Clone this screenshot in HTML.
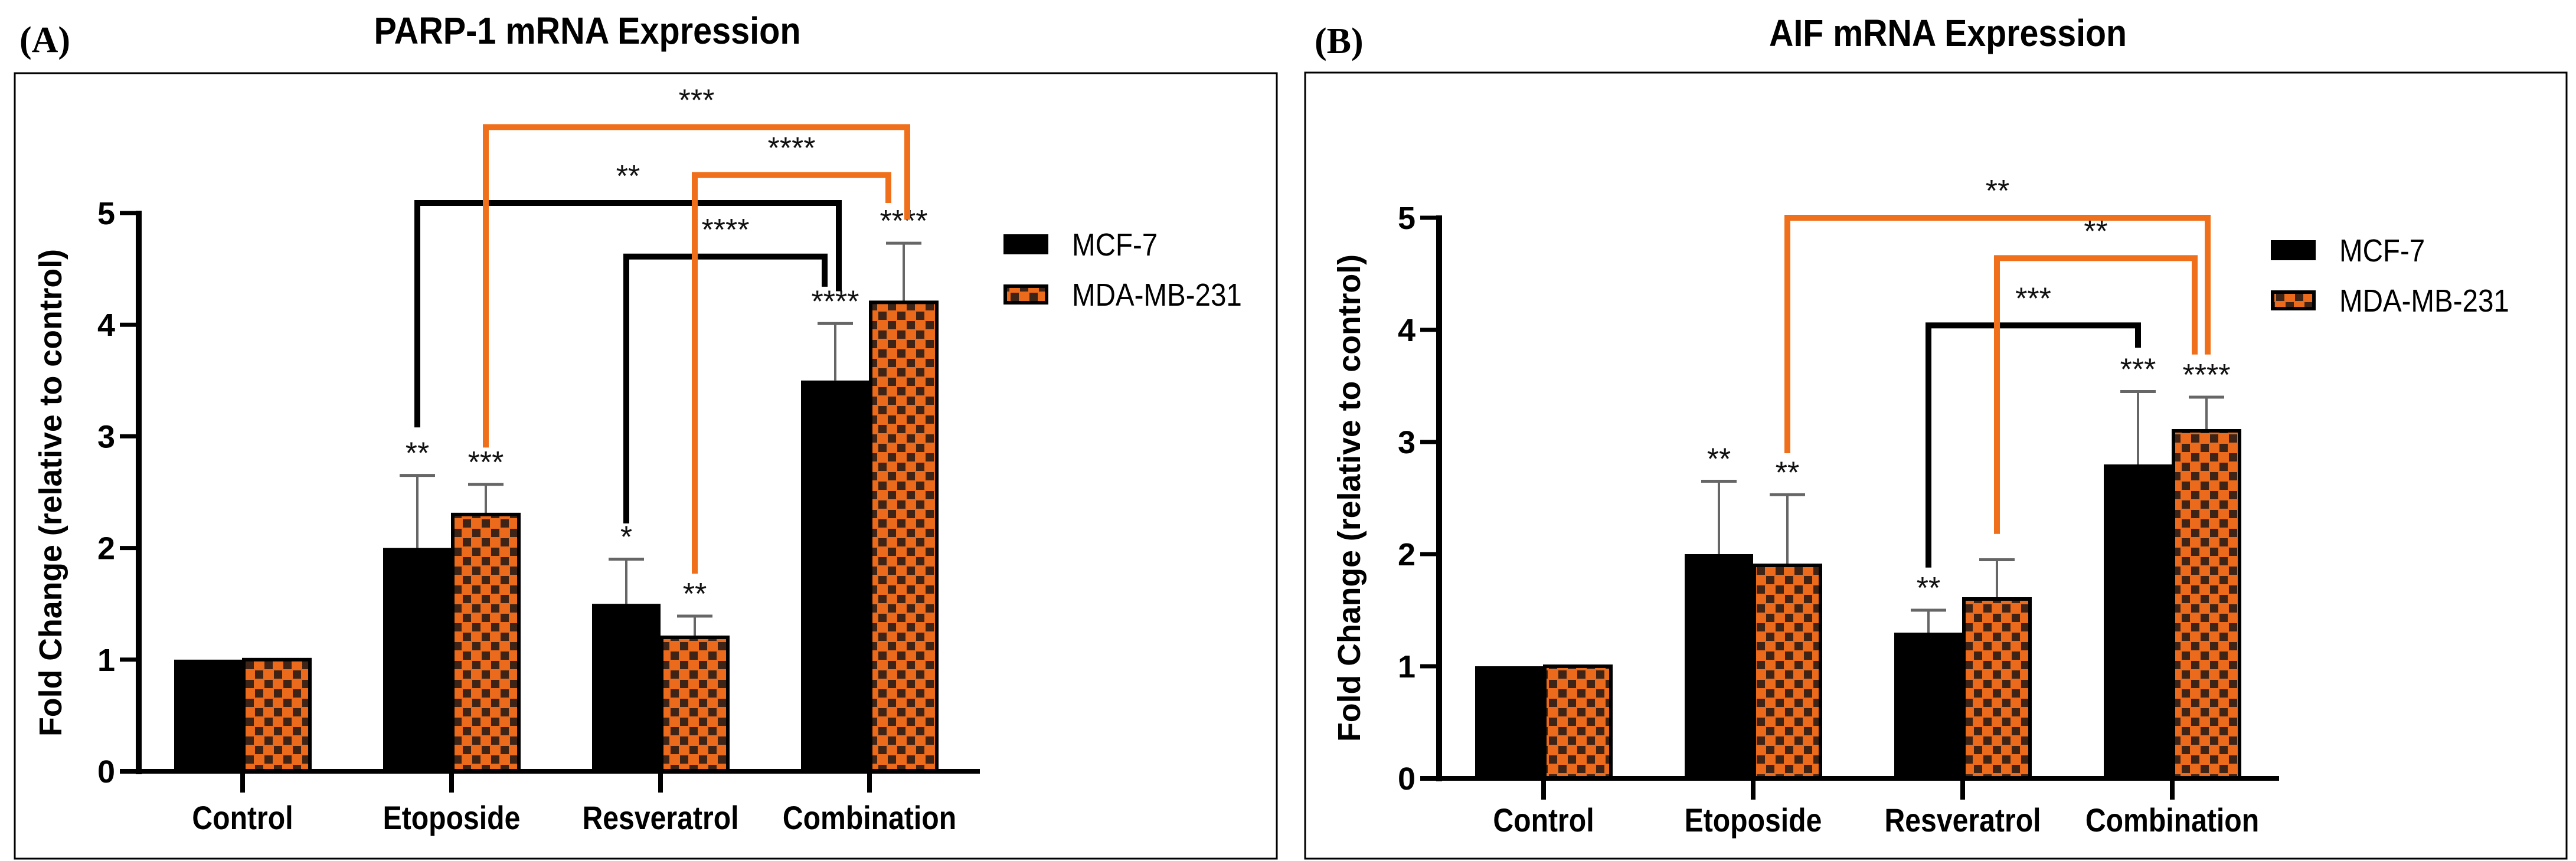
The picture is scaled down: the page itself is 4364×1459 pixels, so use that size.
<!DOCTYPE html>
<html><head><meta charset="utf-8"><style>
html,body{margin:0;padding:0;background:#fff;}
svg{display:block;}
text{font-family:"Liberation Sans",Arial,sans-serif;}
</style></head><body>
<svg id="chart" width="4364" height="1459" viewBox="0 0 4364 1459" xmlns="http://www.w3.org/2000/svg">
<defs>
<pattern id="checker" width="32" height="32" patternUnits="userSpaceOnUse">
<rect width="32" height="32" fill="#ec6a1c"/>
<rect x="0" y="0" width="14" height="14" fill="#3d2416"/>
<rect x="16" y="16" width="14" height="14" fill="#3d2416"/>
</pattern>
</defs>
<g id="root"></g>
</svg>
<script>
const categories = ["Control","Etoposide","Resveratrol","Combination"];
const seriesNames = ["MCF-7","MDA-MB-231"];
const yTicks = [0,1,2,3,4,5];
// Panel A: PARP-1
const aMCF = [1, 2.0, 1.5, 3.5];
const aMDA = [1, 2.3, 1.2, 4.2];
const aMCFerr = [1, 2.65, 1.9, 4.01];
const aMDAerr = [1, 2.57, 1.39, 4.73];
const aMCFstars = ["", "**", "*", "****"];
const aMDAstars = ["", "***", "**", "****"];
// brackets: [fromCat, fromSeries, toCat, toSeries, fromBottom, top, toBottom, label]
const aBrackets = [
  [1,0,3,0,3.08,5.09,4.30,"**"],
  [2,0,3,0,2.22,4.61,4.34,"****"],
  [1,1,3,1,2.90,5.77,4.94,"***"],
  [2,1,3,1,1.77,5.34,5.09,"****"]
];
// Panel B: AIF
const bMCF = [1, 2.0, 1.3, 2.8];
const bMDA = [1, 1.9, 1.6, 3.1];
const bMCFerr = [1, 2.65, 1.5, 3.45];
const bMDAerr = [1, 2.53, 1.95, 3.40];
const bMCFstars = ["", "**", "**", "***"];
const bMDAstars = ["", "**", "", "****"];
const bBrackets = [
  [2,0,3,0,1.88,4.04,3.84,"***"],
  [2,1,3,1,2.18,4.64,3.78,"**"],
  [1,1,3,1,2.90,5.00,3.78,"**"]
];

const NS="http://www.w3.org/2000/svg";
const root=document.getElementById('root');
function mk(tag,attrs,parent){const e=document.createElementNS(NS,tag);for(const k in attrs)e.setAttribute(k,attrs[k]);(parent||root).appendChild(e);return e;}
function squeeze(t,f){const w=t.getComputedTextLength();t.setAttribute('textLength',(w*f).toFixed(1));t.setAttribute('lengthAdjust','spacingAndGlyphs');}

function panel(p){
  const g=mk('g',{});
  
  
  const box=mk('rect',{x:p.box[0],y:p.box[1],width:p.box[2]-p.box[0],height:p.box[3]-p.box[1],fill:'none',stroke:'#000','stroke-width':3},g);
  
  
  const lab=mk('text',{x:p.labX,y:p.labY,'font-size':62,'font-weight':'bold',style:'font-family:"Liberation Serif",serif'},g);
  lab.textContent=p.letter;
  
  
  const ti=mk('text',{x:p.titleX,y:p.titleY,'font-size':64,'font-weight':'bold','text-anchor':'middle'},g);
  ti.textContent=p.title;
  
  
  ti.setAttribute('textLength',p.titleW);ti.setAttribute('lengthAdjust','spacingAndGlyphs');

  const Y=v=>p.y0-(p.y0-p.y5)*v/5;
  const cx=i=>p.c0+p.dc*i;
  const bw=116;
  const barX=(i,s)=>s===0?cx(i)-bw:cx(i);
  const barC=(i,s)=>barX(i,s)+bw/2;

  const ya=mk('line',{x1:p.ax,y1:Y(0)+5,x2:p.ax,y2:Y(5)-4,stroke:'#000','stroke-width':10},g);
  
  
  yTicks.forEach(v=>{
    const tl=mk('line',{x1:p.ax-32,y1:Y(v),x2:p.ax,y2:Y(v),stroke:'#000','stroke-width':7},g);
    
    
    const tt=mk('text',{x:p.ax-40,y:Y(v)+19,'font-size':54,'font-weight':'bold','text-anchor':'end'},g);
    tt.textContent=v;
    
    
  });
  const yt=mk('text',{x:0,y:0,'font-size':54,'font-weight':'bold','text-anchor':'middle',transform:`translate(${p.ytX},${p.ytY}) rotate(-90)`},g);
  yt.textContent='Fold Change (relative to control)';
  
  
  yt.setAttribute('textLength',826);yt.setAttribute('lengthAdjust','spacingAndGlyphs');

  const vals=[p.mcf,p.mda], errs=[p.mcfE,p.mdaE], stars=[p.mcfS,p.mdaS];
  categories.forEach((c,i)=>{
    [0,1].forEach(s=>{
      const v=vals[s][i];
      if(errs[s][i]>v){
        const el=mk('line',{x1:barC(i,s),y1:Y(v),x2:barC(i,s),y2:Y(errs[s][i]),stroke:'#666','stroke-width':4},g);
        
        
        const cap=mk('line',{x1:barC(i,s)-30,y1:Y(errs[s][i]),x2:barC(i,s)+30,y2:Y(errs[s][i]),stroke:'#666','stroke-width':5},g);
        
        
      }
      const r=mk('rect',{x:barX(i,s)+(s?2:0),y:Y(v),width:bw-(s?4:0),height:Y(0)-Y(v),fill:s?'url(#checker)':'#000',stroke:'#000','stroke-width':s?6:0},g);
      
      
      if(stars[s][i]){
        const st=mk('text',{x:barC(i,s),y:Y(errs[s][i])-20,'font-size':52,'text-anchor':'middle',fill:'#111'},g);
        st.textContent=stars[s][i];
        
        
      }
    });
    const xt=mk('line',{x1:cx(i),y1:Y(0),x2:cx(i),y2:Y(0)+36,stroke:'#000','stroke-width':8},g);
    
    
    const xl=mk('text',{x:cx(i),y:p.catY,'font-size':56,'font-weight':'bold','text-anchor':'middle'},g);
    xl.textContent=c;
    
    
    squeeze(xl,0.86);
  });
  const xa=mk('line',{x1:p.ax-32,y1:Y(0),x2:p.xEnd,y2:Y(0),stroke:'#000','stroke-width':8},g);
  
  

  p.br.forEach((b,k)=>{
    const x1=barC(b[0],b[1]), x2=barC(b[2],b[3])-p.inner[k];
    const col=b[1]===0?'#000':'#ef6f1a';
    const pl=mk('polyline',{points:`${x1},${Y(b[4])} ${x1},${Y(b[5])} ${x2},${Y(b[5])} ${x2},${Y(b[6])}`,fill:'none',stroke:col,'stroke-width':10},g);
    
    
    const bt=mk('text',{x:(x1+x2)/2,y:Y(b[5])-28,'font-size':52,'text-anchor':'middle',fill:'#111'},g);
    bt.textContent=b[7];
    
    
  });

  seriesNames.forEach((n,s)=>{
    const ly=p.legY+s*85;
    const sw=mk('rect',{x:p.legX+(s?3:0),y:ly-17+(s?3:0),width:76-(s?6:0),height:34-(s?6:0),fill:s?'url(#checker)':'#000',stroke:'#000','stroke-width':s?6:0},g);
    
    
    const lt=mk('text',{x:p.legX+116,y:ly+19,'font-size':54},g);
    lt.textContent=n;
    
    
    squeeze(lt,0.88);
  });
}

panel({id:'parp1',letter:'(A)',title:'PARP-1 mRNA Expression',box:[25,124,2163,1455],labX:33,labY:88,titleX:995,titleY:74,titleW:723,
  ax:235,y0:1307,y5:361,c0:411,dc:354,xEnd:1660,catY:1405,ytX:104,ytY:835,legX:1700,legY:414,
  mcf:aMCF,mda:aMDA,mcfE:aMCFerr,mdaE:aMDAerr,mcfS:aMCFstars,mdaS:aMDAstars,br:aBrackets,inner:[-6,18,-6,26]});
panel({id:'aif',letter:'(B)',title:'AIF mRNA Expression',box:[2211,123,4348,1455],labX:2227,labY:90,titleX:3300,titleY:78,titleW:606,
  ax:2438,y0:1319,y5:369,c0:2615,dc:355,xEnd:3861,catY:1409,ytX:2304,ytY:844,legX:3847,legY:424,
  mcf:bMCF,mda:bMDA,mcfE:bMCFerr,mdaE:bMDAerr,mcfS:bMCFstars,mdaS:bMDAstars,br:bBrackets,inner:[0,20,-2]});
</script>
</body></html>
